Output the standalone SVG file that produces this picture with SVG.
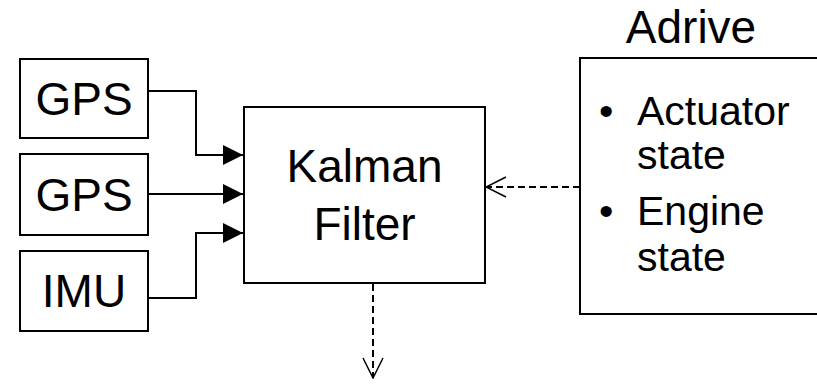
<svg xmlns="http://www.w3.org/2000/svg" width="817" height="384" viewBox="0 0 817 384">
  <style>
    .box { fill: #ffffff; stroke: #000000; stroke-width: 2; }
    .lbl { font-family: "Liberation Sans", Arial, sans-serif; font-size: 46px; fill: #000000; }
    .item { font-family: "Liberation Sans", Arial, sans-serif; font-size: 41px; fill: #000000; }
    .wire { fill: none; stroke: #000000; stroke-width: 2; }
    .dash { fill: none; stroke: #000000; stroke-width: 2; stroke-dasharray: 7 4; }
  </style>
  <defs>
    <marker id="solidHead" viewBox="0 0 20 20" refX="20" refY="10" markerWidth="20" markerHeight="20" markerUnits="userSpaceOnUse" orient="auto">
      <path d="M0,0 L20,10 L0,20 Z" fill="#000000"/>
    </marker>
    <marker id="openHead" viewBox="0 0 22 22" refX="21" refY="11" markerWidth="22" markerHeight="22" markerUnits="userSpaceOnUse" orient="auto">
      <path d="M1,1 L21,11 L1,21" fill="none" stroke="#000000" stroke-width="1.5"/>
    </marker>
  </defs>

  <g id="connectors">
    <path class="wire" d="M148,91 H196 V155 H243" marker-end="url(#solidHead)"/>
    <path class="wire" d="M148,194 H243" marker-end="url(#solidHead)"/>
    <path class="wire" d="M148,298 H196 V233 H243" marker-end="url(#solidHead)"/>
    <path class="dash" d="M580,187 H486" marker-end="url(#openHead)"/>
    <path class="dash" d="M373,284 V378" marker-end="url(#openHead)"/>
  </g>

  <g id="gps1">
    <rect class="box" x="20" y="59" width="128" height="79"/>
    <text class="lbl" x="84" y="115" text-anchor="middle">GPS</text>
  </g>
  <g id="gps2">
    <rect class="box" x="20" y="154" width="128" height="81"/>
    <text class="lbl" x="84" y="211" text-anchor="middle">GPS</text>
  </g>
  <g id="imu">
    <rect class="box" x="20" y="251" width="128" height="80"/>
    <text class="lbl" x="84" y="307" text-anchor="middle">IMU</text>
  </g>

  <g id="kalman">
    <rect class="box" x="244" y="107" width="241" height="176"/>
    <text class="lbl" x="364.5" y="182" text-anchor="middle">Kalman</text>
    <text class="lbl" x="364.5" y="240" text-anchor="middle">Filter</text>
  </g>

  <g id="adrive">
    <text class="lbl" x="691" y="43" text-anchor="middle">Adrive</text>
    <!-- box runs off the right edge of the canvas, so only three sides show -->
    <path class="box" d="M818,58 H580 V314 H818"/>
    <text class="item" x="599" y="125">•</text>
    <text class="item" x="637" y="125">Actuator</text>
    <text class="item" x="637" y="169">state</text>
    <text class="item" x="599" y="225">•</text>
    <text class="item" x="637" y="225">Engine</text>
    <text class="item" x="637" y="271">state</text>
  </g>
</svg>
